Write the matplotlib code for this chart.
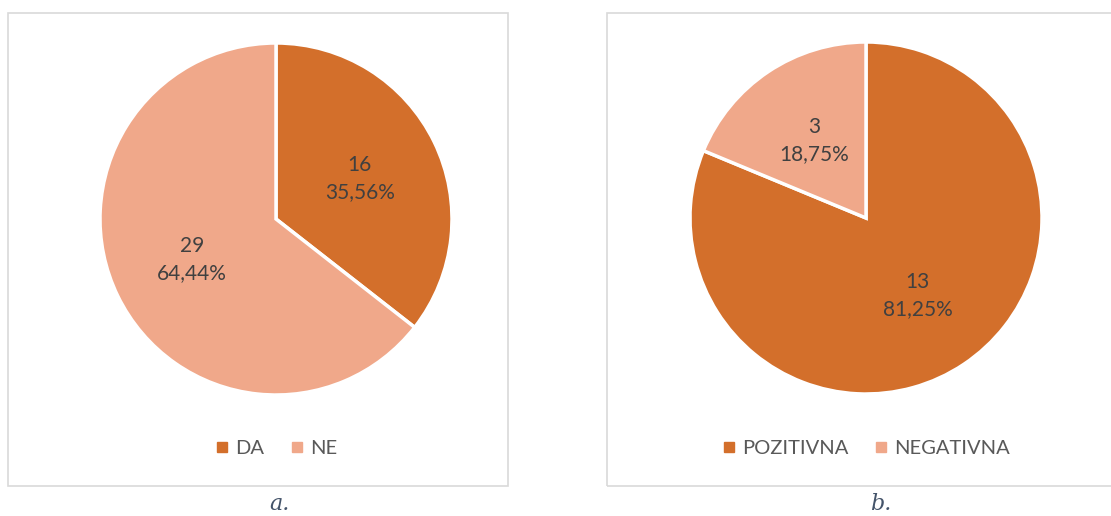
import matplotlib.pyplot as plt
from matplotlib.patches import Rectangle
from matplotlib.lines import Line2D

labels_a = ["DA", "NE"]
values_a = [16, 29]
labels_b = ["POZITIVNA", "NEGATIVNA"]
values_b = [13, 3]
captions = ["a.", "b."]

colors = ["#D36F2B", "#F0A88A"]
W, H = 1111, 516

plt.rcParams["font.family"] = ["Lato", "DejaVu Sans"]

fig = plt.figure(figsize=(W / 100, H / 100), dpi=100)


def px(x0, y0, w, h):
    # pixel box (top-left origin) -> figure fraction
    return [x0 / W, 1 - (y0 + h) / H, w / W, h / H]


def fmt_label(values):
    total = sum(values)

    def f(pct):
        n = int(round(pct * total / 100.0))
        return "%d\n%s%%" % (n, ("%.2f" % pct).replace(".", ","))
    return f


panels = [
    (labels_a, values_a, 276, 219, 8, 500),
    (labels_b, values_b, 866, 218, 607, 520),
]

for i, (labels, values, cx, cy, bx, bw) in enumerate(panels):
    fig.patches.append(Rectangle((bx / W, 1 - 486 / H), bw / W, (486 - 13) / H,
                                 transform=fig.transFigure, fill=False,
                                 edgecolor="#D9D9D9", linewidth=1.2))
    r = 176
    ax = fig.add_axes(px(cx - r, cy - r, 2 * r, 2 * r))
    wedges, texts, autotexts = ax.pie(
        values, colors=colors, startangle=90, counterclock=False,
        autopct=fmt_label(values), pctdistance=0.53,
        wedgeprops=dict(edgecolor="white", linewidth=2.5),
        textprops=dict(color="#404040", fontsize=15, linespacing=1.45))
    ax.set_xlim(-1, 1)
    ax.set_ylim(-1, 1)
    ax.set_aspect("equal")
    for w in wedges:
        w.set_clip_on(False)

    handles = [Line2D([], [], marker="s", linestyle="", markersize=7,
                      markerfacecolor=c, markeredgecolor=c) for c in colors]
    fig.legend(handles, labels, loc="center",
               bbox_to_anchor=(cx / W, 1 - 448 / H), ncol=2, frameon=False,
               fontsize=14.5, labelcolor="#595959", handlelength=0.7,
               handletextpad=0.3, columnspacing=1.3)

    fig.text(cx / W + (0.003 if i == 0 else 0.013), 1 - 504 / H, captions[i],
             ha="center", va="center", fontsize=16, style="italic",
             family="DejaVu Serif", color="#44546A")

fig.savefig("out.png", dpi=100, facecolor="white")
